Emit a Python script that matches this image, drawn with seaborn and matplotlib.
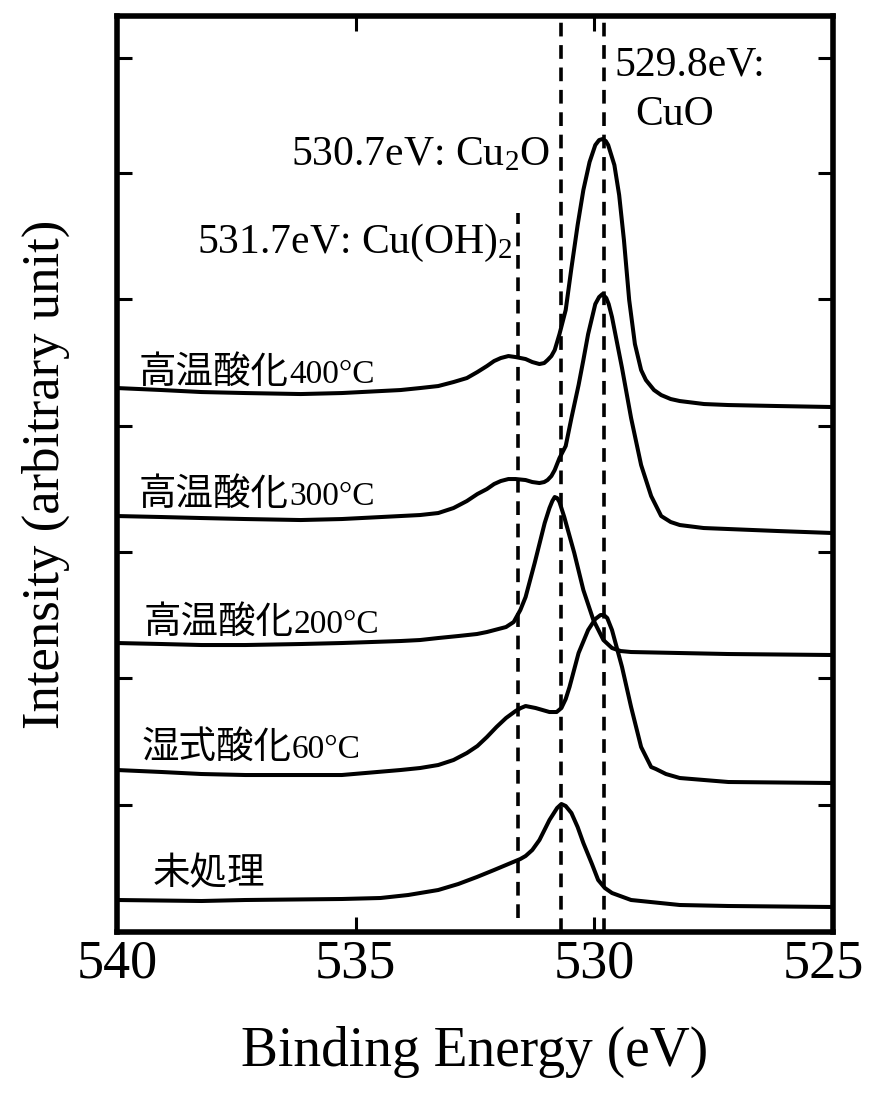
import matplotlib
matplotlib.use("Agg")
import matplotlib.pyplot as plt
from matplotlib.transforms import ScaledTranslation
import seaborn as sns
import pandas as pd

# O1s spectra: binding energy (eV) and intensity (arbitrary unit, stacked as drawn)
e_400 = [540.0, 539.06, 538.23, 537.31, 536.15, 535.29, 534.06, 533.65, 533.27, 532.95, 532.67, 532.45,
         532.25, 532.1, 531.96, 531.8, 531.65, 531.44, 531.3, 531.15, 531.05, 530.98, 530.9, 530.83,
         530.73, 530.60, 530.48, 530.35, 530.23, 530.10, 529.98, 529.90, 529.83, 529.76, 529.71, 529.58,
         529.48, 529.38, 529.27, 529.15, 529.02, 528.92, 528.75, 528.60, 528.4, 528.21, 527.7, 527.19,
         526.15, 525.0]
i_400 = [544, 542, 540, 539, 538, 539, 542, 544, 546, 550, 554, 560,
         566, 571, 574, 576, 575, 573, 570, 568, 569, 572, 576, 582,
         598, 622, 664, 707, 742, 770, 787, 792, 793, 791, 787, 767,
         737, 692, 632, 588, 562, 552, 542, 537, 533, 531, 528, 527,
         526, 525]

e_300 = [540.0, 539.06, 538.23, 537.31, 536.15, 535.29, 534.06, 533.65, 533.27, 532.95, 532.67, 532.45,
         532.25, 532.1, 531.96, 531.8, 531.65, 531.44, 531.3, 531.15, 531.05, 530.98, 530.9, 530.83,
         530.73, 530.60, 530.48, 530.33, 530.23, 530.13, 529.98, 529.90, 529.83, 529.75, 529.70, 529.63,
         529.42, 529.23, 529.02, 528.81, 528.60, 528.4, 528.21, 527.71, 526.15, 525.0]
i_300 = [416, 415, 414, 413, 412, 413, 416, 417, 419, 424, 431, 438,
         443, 448, 451, 453, 453, 452, 450, 449, 450, 452, 456, 462,
         474, 486, 514, 547, 572, 598, 628, 635, 638, 634, 628, 615,
         564, 514, 467, 436, 416, 410, 407, 404, 401, 399]

e_200 = [540.0, 539.06, 538.23, 537.31, 536.15, 535.29, 534.06, 533.65, 533.27, 532.85, 532.46, 532.25,
         531.85, 531.69, 531.55, 531.44, 531.25, 531.04, 530.94, 530.88, 530.83, 530.78, 530.73, 530.63,
         530.42, 530.23, 530.02, 529.81, 529.63, 529.45, 529.23, 528.21, 527.19, 525.0]
i_200 = [289, 288, 287, 287, 288, 289, 291, 292, 294, 296, 298, 300,
         305, 310, 322, 335, 369, 409, 424, 431, 435, 434, 430, 415,
         379, 342, 312, 292, 284, 281, 280, 279, 278, 277]

e_60 = [540.0, 539.06, 538.23, 537.31, 536.15, 535.29, 534.06, 533.65, 533.27, 532.95, 532.67, 532.45,
        532.25, 532.05, 531.85, 531.65, 531.54, 531.44, 531.23, 530.94, 530.79, 530.69, 530.60, 530.52,
        530.33, 530.13, 529.98, 529.87, 529.80, 529.73, 529.63, 529.42, 529.23, 529.02, 528.81, 528.71,
        528.5, 528.21, 527.19, 525.0]
i_60 = [162, 160, 158, 157, 157, 157, 162, 164, 167, 172, 179, 186,
        195, 205, 214, 221, 224, 226, 224, 220, 220, 224, 233, 245,
        279, 302, 313, 317, 317, 314, 302, 265, 225, 185, 165, 163,
        158, 154, 150, 149]

e_raw = [540.0, 538.23, 537.31, 535.29, 534.48, 533.9, 533.27, 532.85, 532.46, 532.1, 531.75, 531.55,
         531.44, 531.3, 531.15, 530.94, 530.78, 530.69, 530.60, 530.48, 530.35, 530.23, 530.05, 529.92,
         529.78, 529.63, 529.23, 528.21, 527.19, 525.0]
i_raw = [32, 31, 32, 33, 34, 37, 42, 48, 55, 62, 69, 73,
         76, 82, 92, 112, 124, 128, 126, 119, 105, 89, 68, 52,
         44, 39, 32, 27, 26, 25]

# sample labels: treatment + temperature
treat = ['高温酸化', '高温酸化', '高温酸化', '湿式酸化', '未処理']
temps = ['400°C', '300°C', '200°C', '60°C', '']

# reference peak positions (as drawn) and their annotations
ref_energy = [531.6, 530.7, 529.8]
ref_text = ['531.7eV: Cu(OH)$_2$', '530.7eV: Cu$_2$O', '529.8eV:', 'CuO']

ytick_pos = [874, 759, 633, 506, 380, 254, 127]

sns.set_theme(style='ticks')
plt.rcParams['font.family'] = ['Liberation Serif', 'Noto Sans CJK JP']
plt.rcParams['mathtext.fontset'] = 'custom'
plt.rcParams['mathtext.rm'] = 'Liberation Serif'
plt.rcParams['mathtext.default'] = 'rm'
for k in ['text.color', 'axes.labelcolor', 'xtick.color', 'ytick.color', 'axes.edgecolor']:
    plt.rcParams[k] = 'black'

fig = plt.figure(figsize=(8.69, 10.93), dpi=100)
ax = fig.add_axes([0.1346, 0.1473, 0.824, 0.838])

spectra = [(e_400, i_400), (e_300, i_300), (e_200, i_200), (e_60, i_60), (e_raw, i_raw)]
for e, i in spectra:
    df = pd.DataFrame({'E': e, 'I': i})
    sns.lineplot(data=df, x='E', y='I', color='black', linewidth=2.9, ax=ax, zorder=3)

# dashed reference lines
dash = (0, (3.8, 2.4))
ax.axvline(ref_energy[0], ymin=0.015, ymax=0.785, color='black', lw=2.6, ls=dash)
ax.axvline(ref_energy[1], ymin=0.0, ymax=1.0, color='black', lw=2.6, ls=dash)
ax.axvline(ref_energy[2], ymin=0.0, ymax=1.0, color='black', lw=2.6, ls=dash)

ax.set_xlim(540, 525)
ax.set_ylim(0, 916)
ax.set_xticks([540, 535, 530, 525])
ax.set_yticks(ytick_pos)
ax.tick_params(direction='in', length=11, width=2.2, top=True, right=True,
               labelleft=False, labelsize=39, pad=5)
for s in ax.spines.values():
    s.set_linewidth(4)
# keep the last tick label inside the figure
last = ax.get_xticklabels()[-1]
last.set_transform(last.get_transform() + ScaledTranslation(-7 / 72, 0, fig.dpi_scale_trans))

ax.set_xlabel('Binding Energy (eV)', fontsize=40, labelpad=26)
ax.set_ylabel('Intensity (arbitrary unit)', fontsize=38, labelpad=34)

# spectrum labels (kanji in gothic, temperature in serif, same baseline)
renderer = fig.canvas.get_renderer()
lab_pos = [(539.54, 549), (539.54, 427), (539.44, 299), (539.48, 174), (539.25, 48)]
for (x, y), k, t in zip(lab_pos, treat, temps):
    t1 = ax.text(x, y, k, fontsize=27, ha='left', va='baseline', family='Noto Sans CJK JP')
    if t:
        w = t1.get_window_extent(renderer).width * 72 / fig.dpi
        ax.annotate(t, xy=(x, y), xycoords='data', xytext=(w, 0), textcoords='offset points',
                    fontsize=24, ha='left', va='baseline', family='Liberation Serif')

# peak annotations
ax.text(531.71, 679, ref_text[0], fontsize=30, ha='right', va='baseline')
ax.text(530.94, 767, ref_text[1], fontsize=30, ha='right', va='baseline')
ax.text(529.58, 857, ref_text[2], fontsize=30, ha='left', va='baseline')
ax.text(529.15, 807, ref_text[3], fontsize=30, ha='left', va='baseline')

fig.savefig('out.png', dpi=100)
